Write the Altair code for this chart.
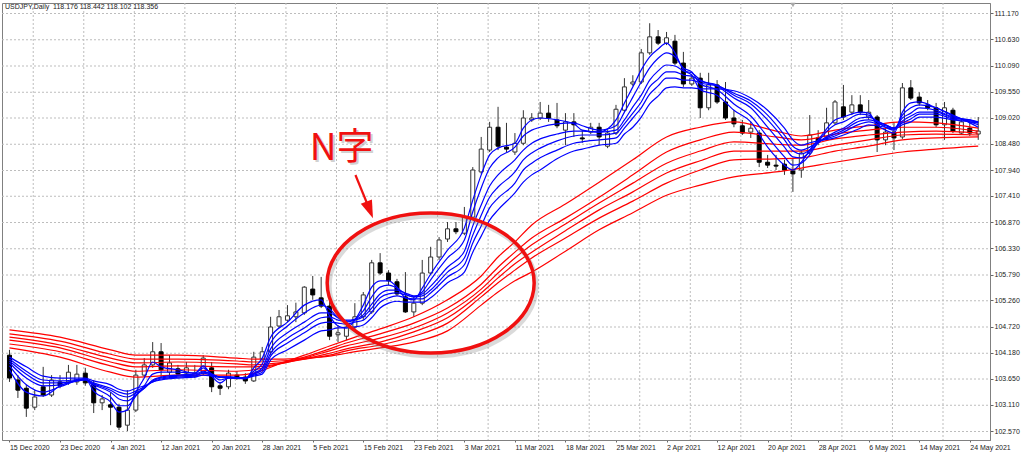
import altair as alt
import pandas as pd

# ---------------- data ----------------
opens = [104.13,103.62,103.45,103.06,103.48,103.31,103.58,103.58,103.58,103.76,
         103.54,103.15,103.11,103.06,102.69,103.00,103.72,103.93,104.20,103.78,
         103.85,103.76,103.70,103.76,103.87,103.50,103.48,103.72,103.68,103.60,
         104.05,104.20,104.73,104.85,104.92,105.00,105.49,105.31,105.14,104.55,
         104.52,104.71,104.92,105.02,106.03,105.82,105.64,105.33,105.02,105.20,
         105.82,106.15,106.52,106.73,106.64,106.97,107.90,108.35,108.82,108.41,
         108.31,108.49,108.97,109.01,109.11,108.97,108.76,108.93,108.60,108.72,
         108.82,108.43,108.70,109.17,109.71,109.75,110.35,110.68,110.55,110.59,
         110.14,109.71,109.83,109.22,109.69,109.34,109.01,108.85,108.72,108.70,
         108.10,108.04,108.06,107.92,107.94,108.29,108.60,108.62,108.91,109.24,
         109.13,109.28,109.03,109.03,108.56,108.72,108.62,109.63,109.44,109.28,
         109.22,108.87,109.17,108.70,108.80,108.68]
highs = [104.24,103.72,103.52,103.41,103.89,103.72,103.72,103.93,103.93,103.87,
         103.62,103.31,103.37,103.13,103.41,103.83,104.07,104.40,104.38,104.13,
         103.93,103.99,103.93,104.13,103.99,103.58,103.83,103.80,103.76,104.20,
         104.30,104.92,105.06,105.16,105.21,105.55,105.76,105.74,105.27,104.75,
         104.85,105.20,105.43,106.09,106.23,105.88,105.70,105.84,105.33,106.09,
         106.36,106.56,106.87,106.87,107.18,108.00,108.62,108.93,109.24,108.91,
         108.70,109.17,109.11,109.34,109.28,109.32,109.11,109.11,108.76,108.91,
         108.91,108.76,109.28,109.83,109.89,110.43,110.96,110.82,110.78,110.72,
         110.37,109.91,109.94,109.94,109.79,109.75,109.17,108.97,108.93,108.76,
         108.25,108.25,108.15,108.19,108.35,109.07,108.76,109.22,109.38,109.69,
         109.48,109.48,109.38,109.07,108.80,108.91,109.73,109.79,109.54,109.38,
         109.32,109.34,109.22,109.01,108.93,109.03]
lows = [103.58,103.25,102.86,103.00,103.27,103.27,103.45,103.52,103.52,103.50,
        102.94,103.00,102.69,102.59,102.57,102.96,103.68,103.87,103.66,103.66,
        103.70,103.68,103.66,103.72,103.37,103.31,103.43,103.62,103.54,103.58,
        104.01,104.13,104.69,104.81,104.81,104.96,105.27,105.10,104.44,104.40,
        104.44,104.65,104.85,104.98,105.78,105.57,105.35,105.00,104.92,105.16,
        105.78,106.09,106.46,106.62,106.60,106.93,107.86,108.31,108.35,108.31,
        108.25,108.45,108.93,108.97,108.93,108.80,108.45,108.62,108.50,108.68,
        108.45,108.39,108.66,109.13,109.67,109.71,110.31,110.51,110.51,110.10,
        109.65,109.67,109.01,109.17,109.30,108.97,108.82,108.66,108.60,108.00,
        107.98,107.94,107.84,107.49,107.78,108.25,108.45,108.56,108.87,108.97,
        109.07,109.07,108.97,108.31,108.45,108.35,108.58,109.38,109.26,109.17,
        108.82,108.56,108.70,108.66,108.64,108.56]
closes = [103.66,103.41,103.04,103.27,103.31,103.62,103.50,103.78,103.74,103.56,
          103.15,103.23,103.06,102.65,103.00,103.72,103.93,104.20,103.83,103.97,
          103.74,103.87,103.76,104.07,103.48,103.45,103.76,103.68,103.60,104.09,
          104.20,104.71,104.92,104.94,105.02,105.53,105.37,105.14,104.52,104.59,
          104.71,104.92,105.37,106.03,105.82,105.66,105.39,105.02,105.20,105.82,
          106.15,106.50,106.73,106.67,106.97,107.94,108.37,108.82,108.43,108.37,
          108.49,109.01,109.01,109.11,109.01,108.85,108.93,108.87,108.58,108.82,
          108.62,108.70,109.19,109.65,109.75,110.35,110.68,110.55,110.66,110.14,
          109.71,109.83,109.22,109.69,109.34,109.01,108.89,108.70,108.80,108.10,
          108.04,108.02,107.94,107.86,108.29,108.66,108.52,108.91,109.34,109.03,
          109.28,109.13,109.13,108.56,108.72,108.60,109.63,109.42,109.32,109.22,
          108.87,109.22,108.74,108.93,108.70,108.74]

# short-term GMMA (blue), sampled bars
blue_bars = [0,2,4,6,9,10,12,13,14,15,
             16,17,18,20,22,23,24,25,26,28,
             29,30,31,33,35,37,38,39,40,41,
             42,43,44,45,46,47,48,49,50,52,
             54,55,56,57,58,60,61,62,63,65,
             67,68,70,72,73,74,75,76,77,78,
             79,80,81,82,84,86,88,90,92,93,
             94,95,96,98,99,101,102,103,104,105,
             106,107,108,110,112,114,115]
ema3 = [103.83,103.37,103.29,103.50,103.64,103.39,103.17,102.96,103.00,103.37,
        103.66,103.99,103.89,103.83,103.76,103.91,103.70,103.56,103.66,103.64,
        103.87,104.07,104.50,104.81,105.16,105.27,104.94,104.73,104.69,104.85,
        105.16,105.53,105.66,105.66,105.53,105.31,105.27,105.51,105.80,106.29,
        106.75,107.32,107.84,108.25,108.39,108.49,108.80,108.97,109.01,108.97,
        108.89,108.76,108.72,108.97,109.32,109.65,110.00,110.27,110.43,110.55,
        110.35,110.00,109.89,109.59,109.48,109.17,108.93,108.41,108.04,107.94,
        108.10,108.35,108.56,108.97,109.03,109.13,109.11,108.87,108.76,108.70,
        109.13,109.32,109.34,109.22,109.07,108.91,108.82]
ema5 = [103.91,103.52,103.37,103.48,103.64,103.48,103.27,103.09,103.09,103.29,
        103.50,103.74,103.78,103.78,103.76,103.87,103.74,103.62,103.66,103.66,
        103.80,103.95,104.38,104.73,105.00,105.16,105.08,104.90,104.81,104.87,
        105.04,105.33,105.53,105.57,105.51,105.39,105.33,105.43,105.68,106.13,
        106.50,107.08,107.57,107.98,108.19,108.41,108.64,108.76,108.82,108.89,
        108.91,108.85,108.76,108.85,109.13,109.44,109.75,110.04,110.24,110.35,
        110.27,110.04,109.96,109.71,109.59,109.30,109.05,108.62,108.21,108.04,
        108.08,108.25,108.52,108.87,108.93,109.09,109.07,108.93,108.82,108.76,
        109.07,109.22,109.28,109.22,109.05,108.93,108.87]
ema8 = [103.97,103.66,103.50,103.52,103.62,103.52,103.37,103.23,103.19,103.31,
        103.45,103.62,103.68,103.72,103.74,103.80,103.74,103.68,103.68,103.66,
        103.76,103.87,104.26,104.59,104.81,105.00,105.00,104.90,104.85,104.87,
        104.96,105.18,105.39,105.47,105.47,105.41,105.35,105.39,105.55,105.94,
        106.27,106.79,107.22,107.61,107.84,108.15,108.35,108.49,108.58,108.68,
        108.74,108.74,108.72,108.76,108.97,109.24,109.48,109.79,109.98,110.10,
        110.08,109.98,109.94,109.79,109.67,109.42,109.22,108.82,108.41,108.21,
        108.19,108.31,108.50,108.72,108.80,109.01,109.03,108.95,108.87,108.80,
        109.01,109.11,109.22,109.17,109.03,108.97,108.91]
ema10 = [104.01,103.74,103.56,103.56,103.62,103.54,103.41,103.31,103.27,103.35,
         103.45,103.60,103.66,103.70,103.72,103.78,103.74,103.68,103.68,103.66,
         103.74,103.83,104.17,104.48,104.69,104.90,104.92,104.85,104.83,104.85,
         104.92,105.10,105.31,105.39,105.41,105.37,105.33,105.35,105.47,105.84,
         106.13,106.60,107.01,107.38,107.59,107.90,108.15,108.29,108.39,108.54,
         108.64,108.66,108.66,108.70,108.89,109.11,109.34,109.65,109.81,109.96,
         109.96,109.89,109.87,109.77,109.69,109.48,109.30,108.97,108.56,108.33,
         108.27,108.35,108.50,108.68,108.76,108.95,108.97,108.93,108.87,108.80,
         108.95,109.05,109.13,109.13,109.01,108.97,108.93]
ema12 = [104.05,103.80,103.62,103.60,103.64,103.56,103.45,103.37,103.33,103.39,
         103.48,103.58,103.64,103.68,103.70,103.76,103.72,103.68,103.68,103.66,
         103.72,103.78,104.11,104.38,104.59,104.79,104.81,104.79,104.77,104.81,
         104.85,105.02,105.22,105.31,105.35,105.31,105.29,105.29,105.41,105.74,
         105.99,106.44,106.79,107.16,107.36,107.67,107.94,108.08,108.19,108.35,
         108.49,108.52,108.56,108.60,108.80,109.01,109.22,109.50,109.67,109.83,
         109.83,109.79,109.79,109.73,109.67,109.52,109.36,109.07,108.66,108.43,
         108.35,108.41,108.52,108.64,108.72,108.89,108.93,108.89,108.85,108.80,
         108.91,108.99,109.09,109.09,108.99,108.95,108.93]
ema15 = [104.09,103.89,103.70,103.66,103.66,103.60,103.52,103.43,103.39,103.45,
         103.50,103.58,103.62,103.66,103.68,103.72,103.70,103.68,103.68,103.66,
         103.70,103.74,104.03,104.24,104.44,104.63,104.65,104.69,104.69,104.71,
         104.75,104.90,105.10,105.20,105.24,105.22,105.22,105.22,105.31,105.62,
         105.84,106.25,106.58,106.91,107.12,107.47,107.69,107.84,107.94,108.17,
         108.33,108.37,108.45,108.49,108.68,108.82,109.03,109.30,109.46,109.63,
         109.65,109.63,109.63,109.61,109.61,109.57,109.42,109.17,108.80,108.56,
         108.45,108.50,108.54,108.60,108.66,108.80,108.87,108.85,108.82,108.78,
         108.87,108.93,109.03,109.03,108.97,108.93,108.91]

# long-term GMMA (red), sampled bars
red_bars = [0,6,12,15,20,27,29,32,35,38,
            40,44,48,52,56,58,60,62,66,70,
            74,78,82,86,91,94,98,102,106,110,115]
ema30 = [104.28,104.09,103.78,103.68,103.72,103.72,103.76,103.95,104.13,104.32,
         104.44,104.67,104.92,105.27,105.76,106.15,106.46,106.81,107.24,107.69,
         108.15,108.62,108.82,108.93,108.74,108.64,108.76,108.85,108.93,108.91,108.80]
ema35 = [104.36,104.20,103.91,103.80,103.83,103.80,103.83,103.95,104.09,104.26,
         104.38,104.57,104.79,105.10,105.59,105.94,106.25,106.54,106.95,107.38,
         107.84,108.31,108.56,108.72,108.62,108.56,108.68,108.76,108.82,108.82,108.74]
ema40 = [104.44,104.28,103.99,103.89,103.91,103.89,103.89,103.95,104.07,104.22,
         104.32,104.48,104.69,105.00,105.49,105.82,106.13,106.40,106.83,107.26,
         107.67,108.08,108.33,108.52,108.47,108.45,108.58,108.66,108.72,108.74,108.70]
ema45 = [104.50,104.34,104.07,103.97,103.99,103.95,103.93,103.97,104.05,104.17,
         104.26,104.40,104.61,104.90,105.41,105.72,106.01,106.25,106.69,107.12,
         107.49,107.88,108.13,108.33,108.33,108.33,108.45,108.56,108.66,108.68,108.66]
ema50 = [104.57,104.42,104.15,104.05,104.05,104.01,103.99,104.01,104.05,104.13,
         104.22,104.34,104.52,104.79,105.33,105.62,105.88,106.13,106.54,106.95,
         107.30,107.67,107.94,108.15,108.17,108.19,108.33,108.43,108.56,108.60,108.62]
ema60 = [104.65,104.50,104.24,104.13,104.13,104.07,104.05,104.05,104.07,104.11,
         104.17,104.28,104.40,104.63,105.16,105.43,105.66,105.84,106.27,106.71,
         107.06,107.42,107.63,107.80,107.90,107.98,108.10,108.21,108.31,108.37,108.43]

date_labels = ["15 Dec 2020", "23 Dec 2020", "4 Jan 2021", "12 Jan 2021", "20 Jan 2021", "28 Jan 2021",
               "5 Feb 2021", "15 Feb 2021", "23 Feb 2021", "3 Mar 2021", "11 Mar 2021", "18 Mar 2021",
               "25 Mar 2021", "2 Apr 2021", "12 Apr 2021", "20 Apr 2021", "28 Apr 2021", "6 May 2021",
               "14 May 2021", "24 May 2021"]
label_bars = [0, 6, 12, 18, 24, 30, 36, 42, 48, 54, 60, 66, 72, 78, 84, 90, 96, 102, 108, 114]
price_ticks = [111.17, 110.63, 110.09, 109.55, 109.02, 108.48, 107.94, 107.41, 106.87,
               106.33, 105.79, 105.26, 104.72, 104.18, 103.65, 103.11, 102.57]
grid_bars = [2.76, 8.76, 14.76, 20.76, 26.76, 32.76, 38.76, 44.76, 50.76, 56.76,
             62.76, 68.76, 74.76, 80.76, 86.76, 92.76, 98.76, 104.76, 110.76]

header_text = "USDJPY,Daily\u00a0 118.176 118.442 118.102 118.356"
note_text = ["N字"]
note_bar = [39.42]
note_price = [108.37]
ellipse_bar = [50.0]
ellipse_price = [105.615]
arrow_bar = [41.07, 42.48]
arrow_price = [107.837, 107.24]
arrowhead_bar = [42.68]
arrowhead_price = [107.152]

for arr in (ema3, ema5, ema8, ema10, ema12, ema15):
    assert len(arr) == len(blue_bars), len(arr)
for arr in (ema30, ema35, ema40, ema45, ema50, ema60):
    assert len(arr) == len(red_bars), len(arr)

# ---------------- build ----------------
FONT = "Liberation Sans"
GRID = "#bdbdbd"
PLOT_W, PLOT_H = 988, 437
xscale = alt.Scale(domain=[-0.294, 115.805], nice=False, zero=False)
yscale = alt.Scale(domain=[102.385, 111.376], nice=False, zero=False)

candles = pd.DataFrame({"bar": list(range(len(opens))), "open": opens, "high": highs,
                        "low": lows, "close": closes})
candles["dir"] = ["up" if c >= o else "down" for o, c in zip(opens, closes)]

label_expr = "[" + ",".join("'%s'" % s for s in date_labels) + "][round(datum.value/6)]"

xaxis = alt.Axis(values=label_bars, labelExpr=label_expr, orient="bottom", title=None,
                 labelAlign="left", labelBaseline="top", labelFontSize=7, labelFont=FONT,
                 labelColor="#222222", labelPadding=1, tickSize=2, tickColor="#666666",
                 domainColor="#808080", grid=False, labelFlush=False, labelOverlap=False)
yaxis = alt.Axis(values=price_ticks, format=".3f", orient="right", title=None, grid=False,
                 tickSize=3, tickColor="#666666",
                 domainColor="#808080", labelFontSize=7, labelFont=FONT, labelColor="#222222",
                 labelPadding=1, labelBaseline="middle", labelFlush=False,
                 labelOverlap=False, labelAlign="left")


def X(field):
    return alt.X(field, type="quantitative", scale=xscale, axis=xaxis)


def Y(field):
    return alt.Y(field, type="quantitative", scale=yscale, axis=yaxis)


vgrid = alt.Chart(pd.DataFrame({"bar": grid_bars})).mark_rule(
    color=GRID, strokeDash=[2, 2], strokeWidth=1, xOffset=0.5).encode(
    x=X("bar"), y=alt.value(0), y2=alt.value(PLOT_H))
hgrid = alt.Chart(pd.DataFrame({"price": price_ticks})).mark_rule(
    color=GRID, strokeDash=[2, 2], strokeWidth=1, yOffset=0.5).encode(
    y=Y("price"), x=alt.value(0), x2=alt.value(PLOT_W))

wicks = alt.Chart(candles).mark_rule(color="#333333", strokeWidth=1).encode(
    x=X("bar"), y=Y("low"), y2="high")

bodies = alt.Chart(candles).mark_bar(size=4, strokeWidth=1).encode(
    x=X("bar"), y=Y("open"), y2="close",
    fill=alt.Fill("dir:N", scale=alt.Scale(domain=["up", "down"], range=["#ffffff", "#000000"]), legend=None),
    stroke=alt.Stroke("dir:N", scale=alt.Scale(domain=["up", "down"], range=["#333333", "#000000"]), legend=None))


def long_df(bars, series):
    rows = []
    for name, vals in series.items():
        for b, v in zip(bars, vals):
            rows.append({"bar": b, "price": v, "series": name})
    return pd.DataFrame(rows)


red_df = long_df(red_bars, {"EMA30": ema30, "EMA35": ema35, "EMA40": ema40,
                            "EMA45": ema45, "EMA50": ema50, "EMA60": ema60})
blue_df = long_df(blue_bars, {"EMA3": ema3, "EMA5": ema5, "EMA8": ema8,
                              "EMA10": ema10, "EMA12": ema12, "EMA15": ema15})

red_lines = alt.Chart(red_df).mark_line(color="#ff0000", strokeWidth=1.2, interpolate="monotone").encode(
    x=X("bar"), y=Y("price"), detail="series:N")
blue_lines = alt.Chart(blue_df).mark_line(color="#0000ff", strokeWidth=1.2, interpolate="monotone").encode(
    x=X("bar"), y=Y("price"), detail="series:N")

ellipse_path = ("M 1 0 C 1 0.373 0.552 0.676 0 0.676 C -0.552 0.676 -1 0.373 -1 0 "
                "C -1 -0.373 -0.552 -0.676 0 -0.676 C 0.552 -0.676 1 -0.373 1 0 Z")
ell_df = pd.DataFrame({"bar": ellipse_bar, "price": ellipse_price})
ell_shadow = alt.Chart(ell_df).mark_point(shape=ellipse_path, size=207 ** 2, filled=False,
                                          color="#888888", opacity=0.3, strokeWidth=5,
                                          xOffset=2, yOffset=3).encode(x=X("bar"), y=Y("price"))
ell = alt.Chart(ell_df).mark_point(shape=ellipse_path, size=207 ** 2, filled=False,
                                   color="#f01010", opacity=1, strokeWidth=3.5).encode(
    x=X("bar"), y=Y("price"))

arrow_line = alt.Chart(pd.DataFrame({"bar": arrow_bar, "price": arrow_price})).mark_line(
    color="#f01010", strokeWidth=2.2).encode(x=X("bar"), y=Y("price"))
head_path = "M 0.331 0.837 L 0.244 -0.742 L -0.686 -0.374 Z"
arrow_head = alt.Chart(pd.DataFrame({"bar": arrowhead_bar, "price": arrowhead_price})).mark_point(
    shape=head_path, size=576, filled=True, color="#f01010", opacity=1).encode(x=X("bar"), y=Y("price"))

note_df = pd.DataFrame({"bar": note_bar, "price": note_price, "text": note_text})
note_shadow = alt.Chart(note_df).mark_text(font="Noto Sans CJK JP", fontSize=37, color="#9a9a9a",
                                           opacity=0.45, align="center", baseline="middle",
                                           dx=2, dy=2).encode(x=X("bar"), y=Y("price"), text="text:N")
note = alt.Chart(note_df).mark_text(font="Noto Sans CJK JP", fontSize=37, color="#f01010",
                                    align="center", baseline="middle").encode(
    x=X("bar"), y=Y("price"), text="text:N")

header = alt.Chart(pd.DataFrame({"t": [header_text]})).mark_text(
    font=FONT, fontSize=7, color="#222222", align="left", baseline="middle").encode(
    x=alt.value(3), y=alt.value(4), text="t:N")

marker = alt.Chart(pd.DataFrame({"m": [1]})).mark_point(
    shape="triangle-down", filled=True, color="#a8a8a8", size=25, opacity=1).encode(
    x=alt.value(791), y=alt.value(2))

chart = alt.layer(vgrid, hgrid, wicks, bodies, red_lines, blue_lines, ell_shadow, ell,
                  arrow_line, arrow_head, note_shadow, note, header, marker).properties(
    width=PLOT_W, height=PLOT_H,
    padding={"left": 2, "top": 3, "right": 34, "bottom": 15},
    autosize=alt.AutoSizeParams(type="none"),
    background="white",
).configure_view(stroke="#808080", strokeWidth=1)

chart.save("out.html", embed_options={"renderer": "svg", "actions": False})
